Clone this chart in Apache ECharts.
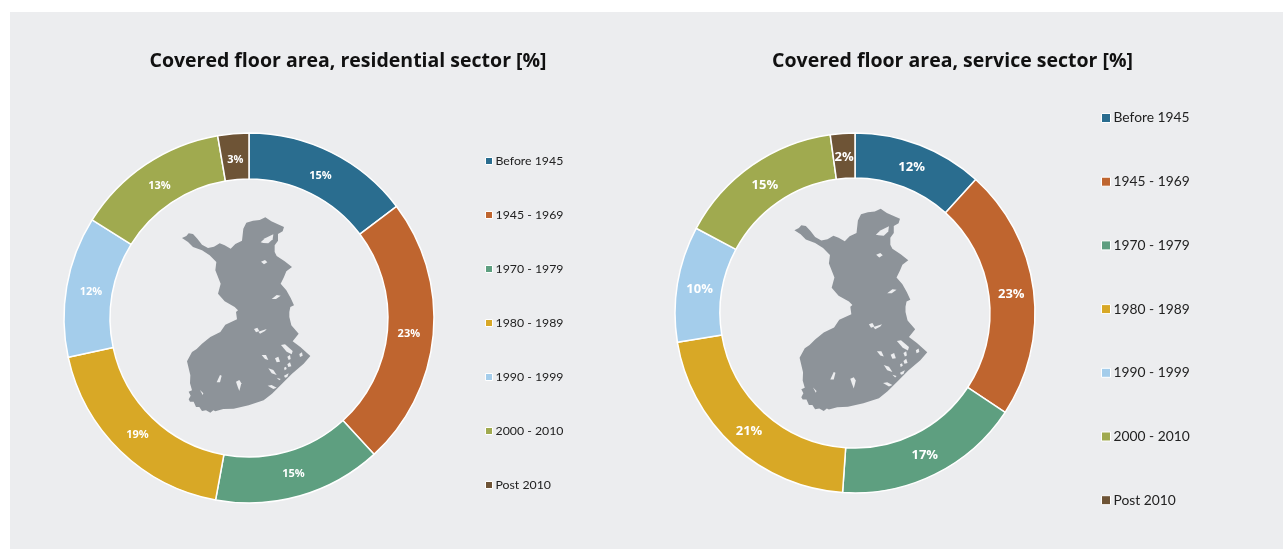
<!DOCTYPE html>
<html><head><meta charset="utf-8">
<style>html,body{margin:0;padding:0;background:#fff}#c{width:1283px;height:549px}</style>
<script src="https://cdn.jsdelivr.net/npm/echarts@6/dist/echarts.min.js"></script>
</head><body><div id="c"></div>
<script>
const categories = ['Before 1945','1945 - 1969','1970 - 1979','1980 - 1989','1990 - 1999','2000 - 2010','Post 2010'];
const residentialValues = [14.7,23.49,14.7,18.7,12.3,13.4,2.71];
const serviceValues = [11.7,22.6,16.8,21.3,10.4,15.0,2.2];
const colors = ['#2A6D8F','#BF652F','#5E9F80','#D8A826','#A4CDEB','#A0AA4F','#6E5436'];
const titleLeft = 'Covered floor area, residential sector [%]';
const titleRight = 'Covered floor area, service sector [%]';
const panel = '#ECEDEF';
const mapOutline = [[36,99],[49,93],[56,85],[69,87],[82,101],[96,119],[114,129],[132,125],[149,115],[164,121],[182,131],[196,117],[216,107],[220,71],[229,53],[249,47],[269,45],[286,37],[304,49],[322,57],[342,66],[338,79],[324,87],[324,107],[314,121],[314,141],[320,153],[344,169],[366,186],[349,199],[342,216],[332,236],[349,256],[362,279],[372,301],[361,306],[358,321],[358,336],[364,361],[386,386],[368,409],[391,426],[421,453],[401,476],[366,506],[336,536],[306,566],[281,586],[236,601],[191,611],[160,612],[136,619],[130,616],[121,623],[108,616],[96,618],[88,606],[78,606],[71,590],[60,590],[56,583],[62,572],[56,560],[66,556],[60,535],[61,511],[51,469],[66,441],[80,432],[96,416],[121,396],[151,381],[166,359],[201,343],[198,321],[204,316],[194,306],[164,289],[144,266],[152,236],[136,196],[139,171],[119,151],[96,136],[69,126],[54,111]];
const mapLakes = [
 [[272,112],[285,100],[310,88],[308,103],[295,115],[280,114]],
 [[273,170],[285,165],[292,172],[282,178]],
 [[305,282],[320,270],[332,272],[318,282]],
 [[252,372],[262,368],[268,378],[258,382]],
 [[265,380],[290,372],[285,378],[270,386]],
 [[333,420],[345,418],[368,438],[365,448],[350,440]],
 [[388,447],[396,442],[398,452],[390,456]],
 [[275,450],[288,450],[295,465],[285,462]],
 [[315,460],[325,455],[330,470],[320,472]],
 [[352,455],[360,450],[362,462],[356,465]],
 [[352,478],[360,472],[364,484],[355,486]],
 [[342,488],[348,485],[350,492],[344,496]],
 [[295,490],[310,495],[320,510],[305,505]],
 [[320,518],[332,522],[328,526]],
 [[342,512],[356,505],[352,516],[345,518]],
 [[293,542],[305,540],[320,548],[310,552]],
 [[140,532],[150,510],[155,512],[150,532]],
 [[198,530],[208,525],[214,535],[208,558],[203,545]],
 [[90,555],[100,565],[98,570]]
];
function mapGraphic(x, y, s) {
  const children = [{type:'polygon', shape:{points:mapOutline}, style:{fill:'#8D9399'}}]
    .concat(mapLakes.map(p => ({type:'polygon', shape:{points:p}, style:{fill:panel}})));
  return {type:'group', x, y, scaleX:s, scaleY:s, z:5, children};
}
function ring(values, cx, cy, rIn, rOut, fs, inward) {
  return {type:'pie', center:[cx,cy], radius:[rIn,rOut], startAngle:90, clockwise:true, sort:null, silent:true, animation:false,
    data: categories.map((n,i)=>({name:n, value:values[i], itemStyle:{color:colors[i]}})),
    itemStyle:{borderColor:'#fff', borderWidth:1.5},
    label:{show:true, position:'inside', color:'#fff', fontFamily:'Open Sans', fontWeight:'bold', fontSize:fs,
      formatter:p=>Math.round(p.value)+'%'},
    labelLayout:p=>{
      const lx=p.labelRect.x+p.labelRect.width/2-cx, ly=p.labelRect.y+p.labelRect.height/2-cy, r=Math.hypot(lx,ly)||1;
      return {dx:-lx/r*inward, dy:-ly/r*inward+1.5};
    },
    labelLine:{show:false}};
}
function legend(left, top, gap, fs, size, pad) {
  return {orient:'vertical', left, top, itemGap:gap, itemWidth:size, itemHeight:size, icon:'rect', selectedMode:false,
    data:categories, itemStyle:{borderColor:'#fff', borderWidth:1},
    textStyle:{color:'#222', fontFamily:'Lato', fontSize:fs, padding:[0,0,0,pad]}, padding:0};
}
const chart = echarts.init(document.getElementById('c'), null, {renderer:'canvas'});
chart.setOption({
  backgroundColor:'#fff', animation:false,
  graphic:[
    {type:'rect', shape:{x:10,y:12,width:1273,height:537}, style:{fill:panel}, z:-10, silent:true},
    mapGraphic(170,205,1/3),
    mapGraphic(782,196,0.345)
  ],
  title:[
    {text:titleLeft, left:343, top:46, textAlign:'center', textStyle:{fontFamily:'Open Sans', fontWeight:'bold', fontSize:19.5, color:'#111'}},
    {text:titleRight, left:947.5, top:46, textAlign:'center', textStyle:{fontFamily:'Open Sans', fontWeight:'bold', fontSize:19.5, color:'#111'}}
  ],
  legend:[legend(485,155,42,12.3,7,-2), legend(1101,111,49.7,13.8,9,-2)],
  series:[ring(residentialValues,249,318,139,185,11,4.5), ring(serviceValues,855,313,135,180,13,3)]
});
</script></body></html>
